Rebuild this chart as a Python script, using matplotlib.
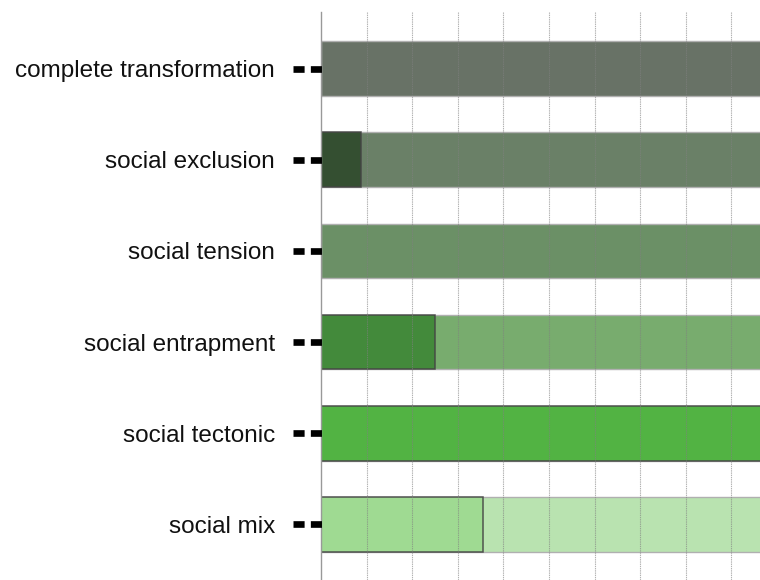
import matplotlib
matplotlib.use("Agg")
import matplotlib.pyplot as plt
import matplotlib.transforms as mtransforms

categories = ["complete transformation", "social exclusion", "social tension",
              "social entrapment", "social tectonic", "social mix"]
totals = [10, 10, 10, 10, 10, 10]
parts = [0, 0.88, 0, 2.5, 10, 3.55]

bg_colors = ["#687266", "#6a8067", "#6b9066", "#78ac6e", "#52b343", "#b9e3b0"]
fg_colors = ["#5e685c", "#2e4a2b", "#5f8459", "#3e8736", "#52b343", "#9dd98f"]

plt.rcParams["font.family"] = ["Liberation Sans", "DejaVu Sans"]
plt.rcParams["lines.scale_dashes"] = False

fig = plt.figure(figsize=(7.6, 5.8), dpi=100)
ax = fig.add_axes([321 / 760, 0.0, 1 - 321 / 760, 1 - 12 / 580])

ys = list(range(len(categories)))

# fond: la barre totale
ax.barh(ys, totals, height=0.6, color=bg_colors, edgecolor="#b0b0b0",
        linewidth=1, zorder=1)
# barre partielle par-dessus
for y, v, c in zip(ys, parts, fg_colors):
    if v > 0:
        ax.barh(y, v, height=0.6, color=c, edgecolor="#444444",
                linewidth=1.1, alpha=0.9, zorder=2)

ax.set_xlim(0, 439 / 45.6)
ax.set_ylim(5.61, -0.62)

ax.set_xticks(range(1, 10))
ax.xaxis.grid(True, linestyle=(0, (1, 0.6)), color="#808080", linewidth=0.8,
              alpha=0.6)
ax.set_axisbelow(False)
for gl in ax.get_xgridlines():
    gl.set_zorder(3)
ax.tick_params(axis="x", length=0, labelbottom=False)

ax.set_yticks(ys)
ax.set_yticklabels(categories, fontsize=17.5, color="#111111")
ax.tick_params(axis="y", length=0, pad=33)

for s in ["top", "right", "bottom"]:
    ax.spines[s].set_visible(False)
ax.spines["left"].set_color("#999999")
ax.spines["left"].set_linewidth(1)
ax.spines["left"].set_zorder(4)

# petits tirets a la place des ticks
trans = mtransforms.blended_transform_factory(ax.transAxes, ax.transData)
for y in ys:
    ax.plot([-28 / 439, 2 / 439], [y, y], transform=trans, color="black",
            linewidth=4.8, dashes=(8, 4.5), solid_capstyle="butt",
            dash_capstyle="butt", clip_on=False, zorder=5)

fig.savefig("out.png", dpi=100)
